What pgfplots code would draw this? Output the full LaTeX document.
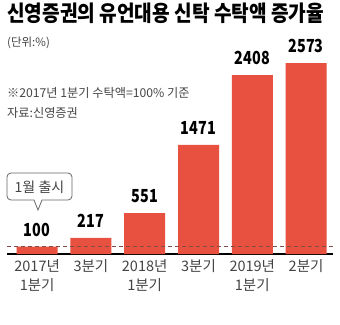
\documentclass[border=0pt]{standalone}
\usepackage{pgfplots}
\pgfplotsset{compat=1.18}
\usepackage{fontspec}
\setmainfont{Noto Sans CJK KR}
\newfontfamily\kr{Noto Sans CJK KR}[FakeStretch=0.8]
\newfontfamily\krt{Noto Sans CJK KR}[FakeStretch=0.87]
\newfontfamily\krn{Noto Sans CJK KR}
\definecolor{barred}{HTML}{E8503F}
\definecolor{txtgray}{HTML}{444444}
\begin{document}
\begin{tikzpicture}
\useasboundingbox (0,0) rectangle (340pt,-324pt);
% title
\node[anchor=west, inner sep=0] at (7pt,-13pt) {\krt\bfseries\fontsize{22}{24}\selectfont 신영증권의 유언대용 신탁 수탁액 증가율};
\node[anchor=west, inner sep=0, text=txtgray] at (7pt,-43pt) {\krn\fontsize{11.5}{12}\selectfont (단위:\%)};
\node[anchor=west, inner sep=0, text=txtgray] at (7pt,-93pt) {\krn\fontsize{12.2}{14}\selectfont ※2017년 1분기 수탁액=100\% 기준};
\node[anchor=west, inner sep=0, text=txtgray] at (7pt,-113pt) {\krn\fontsize{12.2}{14}\selectfont 자료:신영증권};
\begin{axis}[
  at={(7pt,-254pt)}, anchor=south west,
  scale only axis, width=326pt, height=222.7pt,
  xmin=-0.56, xmax=5.5, ymin=0, ymax=3000,
  axis x line*=bottom, axis y line=none,
  x axis line style={-, line width=1.2pt, black},
  xtick={0,1,2,3,4,5},
  xticklabels={2017년\\1분기, 3분기, 2018년\\1분기, 3분기, 2019년\\1분기, 2분기},
  xticklabel style={align=center, text=txtgray, font=\krn\fontsize{14.5}{19}\selectfont, yshift=-2pt},
  major tick length=0pt,
  clip=false,
  nodes near coords={\pgfmathprintnumber[assume math mode=true, 1000 sep={}]{\pgfplotspointmeta}},
  nodes near coords style={anchor=south, inner sep=0pt, yshift=10pt, font=\kr\bfseries\fontsize{18}{20}\selectfont, text=black},
]
\addplot[ybar, fill=barred, draw=none, bar width=41pt] coordinates {(0,100) (1,217) (2,551) (3,1471) (4,2408) (5,2573)};
\addplot[dashed, color=black!45!barred!60!gray, line width=0.7pt, nodes near coords={}, no marks, dash pattern=on 4pt off 3pt] coordinates {(-0.56,100) (5.5,100)};
\end{axis}
% callout
\draw[black!60, line width=0.8pt, fill=white] (7pt,-177pt) arc[start angle=180, end angle=90, radius=4pt] -- (68pt,-173pt) arc[start angle=90, end angle=0, radius=4pt] -- (72pt,-196pt) arc[start angle=0, end angle=-90, radius=4pt] -- (42pt,-200pt) -- (38pt,-210pt) -- (34pt,-200pt) -- (11pt,-200pt) arc[start angle=270, end angle=180, radius=4pt] -- cycle;
\node[inner sep=0, text=txtgray] at (39.5pt,-187pt) {\krn\fontsize{14}{15}\selectfont 1월 출시};
\end{tikzpicture}
\end{document}
